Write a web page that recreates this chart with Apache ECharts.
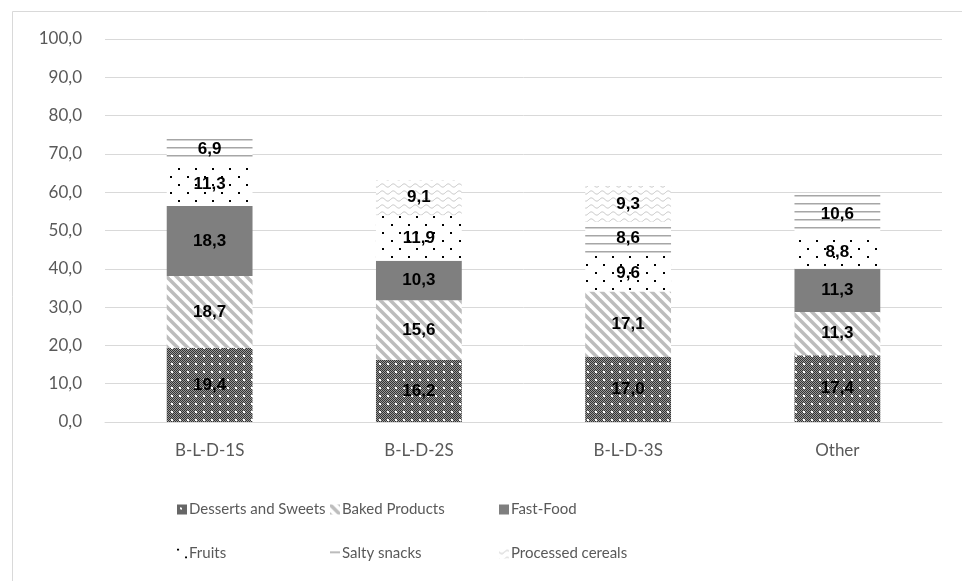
<!DOCTYPE html>
<html>
<head>
<meta charset="utf-8">
<script src="https://cdn.jsdelivr.net/npm/echarts@6/dist/echarts.min.js"></script>
<style>
  html, body { margin: 0; padding: 0; background: #fff; }
  #chart { width: 962px; height: 581px; }
</style>
</head>
<body>
<div id="chart"></div>
<script>
// Meal-pattern groups on the x axis
const categories = ['B-L-D-1S', 'B-L-D-2S', 'B-L-D-3S', 'Other'];

// Share (%) per food group, stacked bottom to top; null = not present
const dessertsSweets   = [19.4, 16.2, 17.0, 17.4];
const bakedProducts    = [18.7, 15.6, 17.1, 11.3];
const fastFood         = [18.3, 10.3, null, 11.3];
const fruits           = [11.3, 11.9, 9.6, 8.8];
const saltySnacks      = [6.9, null, 8.6, 10.6];
const processedCereals = [null, 9.1, 9.3, null];

const seriesNames = ['Desserts and Sweets', 'Baked Products', 'Fast-Food', 'Fruits', 'Salty snacks', 'Processed cereals'];
const seriesValues = [dessertsSweets, bakedProducts, fastFood, fruits, saltySnacks, processedCereals];

const FONT = 'Lato, "Liberation Sans", Arial, sans-serif';
const LABEL_FONT = '"Liberation Sans", Arial, sans-serif';

function tile(w, h, draw) {
  const c = document.createElement('canvas');
  c.width = w; c.height = h;
  const ctx = c.getContext('2d');
  ctx.fillStyle = '#ffffff';
  ctx.fillRect(0, 0, w, h);
  draw(ctx, w, h);
  return { image: c, repeat: 'repeat' };
}

// Dense dark checker with a sparse grid of white dots
const patDesserts = tile(8, 8, (ctx) => {
  for (let y = 0; y < 8; y++) {
    for (let x = 0; x < 8; x++) {
      ctx.fillStyle = ((x + y) % 2 === 0) ? '#333333' : '#999999';
      ctx.fillRect(x, y, 1, 1);
    }
  }
  ctx.fillStyle = '#ffffff';
  ctx.fillRect(3, 3, 2, 2);
});

// Wide diagonal stripes running down to the right
const patBaked = tile(10, 10, (ctx) => {
  ctx.strokeStyle = '#bdbdbd';
  ctx.lineWidth = 3.5;
  for (let k = -2; k <= 2; k++) {
    ctx.beginPath();
    ctx.moveTo(k * 10 - 2, -2);
    ctx.lineTo(k * 10 + 12, 12);
    ctx.stroke();
  }
});

const solidFast = '#7f7f7f';

// Sparse staggered dots
const patFruits = tile(17, 16, (ctx) => {
  ctx.fillStyle = '#000000';
  ctx.fillRect(0, 0, 2, 2);
  ctx.fillRect(8, 8, 2, 2);
});

// Horizontal lines
const patSalty = tile(8, 8, (ctx) => {
  ctx.fillStyle = '#a6a6a6';
  ctx.fillRect(0, 3, 8, 1.5);
});

// Light wavy lines
const patCereals = tile(11, 7, (ctx) => {
  ctx.strokeStyle = '#c4c4c4';
  ctx.lineWidth = 1;
  ctx.beginPath();
  for (let x = 0; x <= 11; x += 0.5) {
    const y = 3.5 + 1.6 * Math.sin((x / 11) * Math.PI * 2);
    if (x === 0) ctx.moveTo(x, y); else ctx.lineTo(x, y);
  }
  ctx.stroke();
});

const fills = [patDesserts, patBaked, solidFast, patFruits, patSalty, patCereals];

const fmt = (v) => v.toFixed(1).replace('.', ',');

const series = seriesNames.map((name, i) => ({
  name: name,
  type: 'bar',
  stack: 'total',
  barWidth: '41%',
  data: seriesValues[i],
  itemStyle: { color: fills[i] },
  label: {
    show: true,
    position: 'inside',
    color: '#000',
    fontFamily: LABEL_FONT,
    fontWeight: 'bold',
    fontSize: 17,
    formatter: (p) => (p.value == null ? '' : fmt(p.value))
  },
  emphasis: { disabled: true }
}));

// Legend laid out in two rows of three columns
const legendCols = [172, 325, 494];
const legendRows = [497, 541];
const legend = seriesNames.map((name, i) => ({
  data: [name],
  left: legendCols[i % 3],
  top: legendRows[Math.floor(i / 3)],
  itemWidth: 10,
  itemHeight: 10,
  itemGap: 4,
  icon: 'rect',
  selectedMode: false,
  textStyle: { color: '#595959', fontSize: 15, fontFamily: FONT, padding: [0, 0, 0, -3] }
}));

const chart = echarts.init(document.getElementById('chart'), null, { renderer: 'canvas' });
chart.setOption({
  backgroundColor: '#ffffff',
  animation: false,
  graphic: [{
    type: 'rect',
    left: 10, top: 9,
    shape: { width: 980, height: 600 },
    style: { fill: 'none', stroke: '#d9d9d9', lineWidth: 1 },
    silent: true
  }],
  grid: { left: 105, right: 20, top: 39, bottom: 159, containLabel: false },
  legend: legend,
  xAxis: {
    type: 'category',
    data: categories,
    axisLine: { lineStyle: { color: '#d9d9d9' } },
    axisTick: { show: false },
    axisLabel: { color: '#595959', fontSize: 17, fontFamily: FONT, margin: 20 }
  },
  yAxis: {
    type: 'value',
    min: 0, max: 100, interval: 10,
    axisLine: { show: false },
    axisTick: { show: false },
    splitLine: { lineStyle: { color: '#d9d9d9' } },
    axisLabel: { color: '#595959', fontSize: 17, fontFamily: FONT, margin: 23, formatter: fmt }
  },
  series: series
});
</script>
</body>
</html>
